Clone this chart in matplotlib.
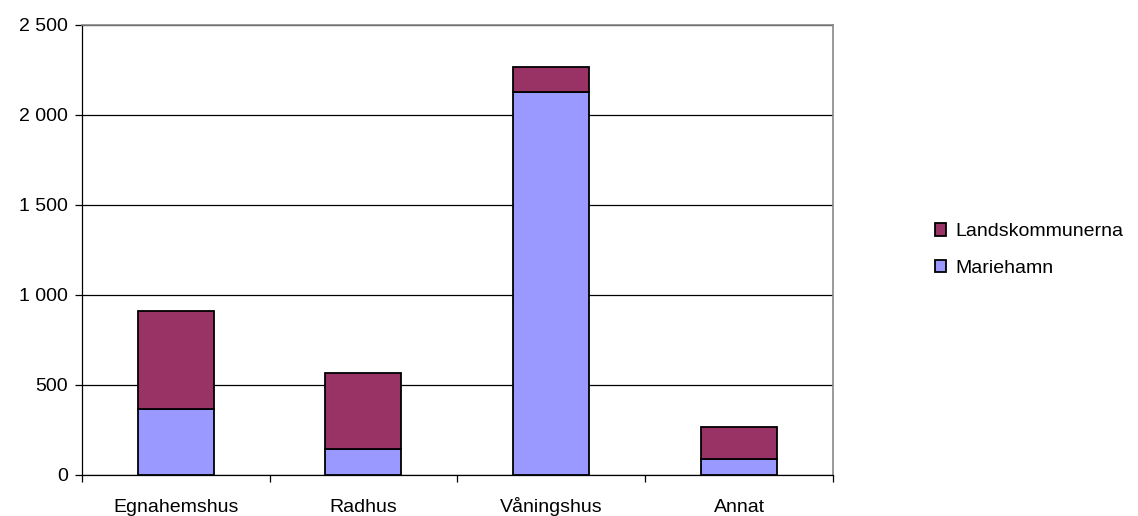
import numpy as np
import matplotlib.pyplot as plt
from matplotlib.ticker import FuncFormatter, FixedLocator

categories = ["Egnahemshus", "Radhus", "Våningshus", "Annat"]
mariehamn = [365, 143, 2130, 87]
landskommunerna = [544, 422, 138, 178]

plt.rcParams['font.family'] = ['Liberation Sans', 'DejaVu Sans']
plt.rcParams['font.size'] = 14

fig = plt.figure(figsize=(11.38, 5.16), dpi=100)
ax = fig.add_axes([0.0718, 0.0795, 0.6602, 0.8721])

x = np.arange(len(categories))
w = 0.405
ax.bar(x, mariehamn, w, color="#9999ff", edgecolor="black", linewidth=1.3,
       label="Mariehamn", zorder=3)
ax.bar(x, landskommunerna, w, bottom=mariehamn, color="#993366",
       edgecolor="black", linewidth=1.3, label="Landskommunerna", zorder=3)

ax.set_xlim(-0.5, len(categories) - 0.5)
ax.set_ylim(0, 2500)
ax.set_yticks(range(0, 2501, 500))
ax.yaxis.set_major_formatter(FuncFormatter(lambda v, p: f"{int(v):,}".replace(",", " ")))
ax.yaxis.grid(True, color="black", linewidth=0.9, zorder=0)

# category names sit on a common baseline below the axis
ax.set_xticks(x)
ax.set_xticklabels(categories, va="baseline")
ax.tick_params(axis="x", length=0, pad=26.5)
ax.xaxis.set_minor_locator(FixedLocator(np.arange(-0.5, len(categories), 1.0)))
ax.tick_params(axis="x", which="minor", length=5, width=0.9, color="black")
ax.tick_params(axis="y", length=5, width=0.9, pad=5)

for side in ("top", "right"):
    ax.spines[side].set_color("#888888")
    ax.spines[side].set_linewidth(1.2)
for side in ("left", "bottom"):
    ax.spines[side].set_color("black")
    ax.spines[side].set_linewidth(0.9)

handles, labels = ax.get_legend_handles_labels()
ax.legend(handles[::-1], labels[::-1], loc="center left", bbox_to_anchor=(1.125, 0.5),
          frameon=False, handlelength=0.6, handleheight=0.6, handletextpad=0.45,
          labelspacing=1.0, borderaxespad=0)

fig.savefig("out.png", dpi=100)
